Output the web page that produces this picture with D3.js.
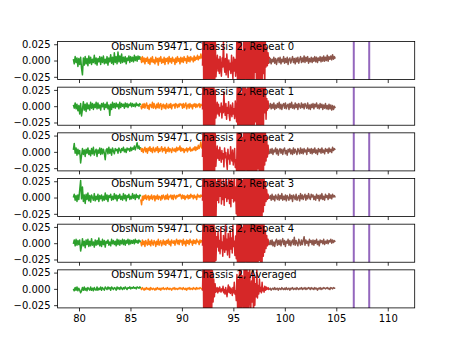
<!DOCTYPE html>
<html>
<head>
<meta charset="utf-8">
<script src="https://cdn.jsdelivr.net/npm/d3@7"></script>
<style>
    body { margin: 0; background: #fff; }
    svg { display: block; }
</style>
</head>
<body>
<div id="chart"></div>
<script>
// spectra are stored in units of 1e-3; one row per repeat, last row is the average
const panelTitles = [
    'ObsNum 59471, Chassis 2, Repeat 0',
    'ObsNum 59471, Chassis 2, Repeat 1',
    'ObsNum 59471, Chassis 2, Repeat 2',
    'ObsNum 59471, Chassis 2, Repeat 3',
    'ObsNum 59471, Chassis 2, Repeat 4',
    'ObsNum 59471, Chassis 2, Averaged'
];

const xTicks = [80, 85, 90, 95, 100, 105, 110];
const yTicks = [-25, 0, 25];

// frequency range covered by each band, in GHz
const bandEdges = [79.45, 86.0, 92.0, 98.5, 104.9];
const bandColors = ['#2ca02c', '#ff7f0e', '#d62728', '#8c564b'];

const green = [
    [2,-5,6,-3,4,-9,3,-6,5,-12,-22,4,-7,6,-5,3,-8,7,-4,5,-6,2,-3,8,-5,4,-7,3,-2,6,-6,5,-3,7,-5,2,-4,6,-7,4,-2,9,-4,5,-6,12,-3,6,-5,13,-2,7,-4,10,-3,5,-2,6,-5,4,0,7,-3,6,-1,5,-2,8,0,6,-1,7,2,6,1],
    [2,-3,5,-4,3,-7,1,-12,4,-15,-5,7,-6,3,-8,5,-4,2,-6,6,-3,4,-5,3,-2,6,-4,5,-3,2,-6,4,-1,5,-5,3,-2,6,-4,2,-14,3,-5,6,-2,4,-3,5,-1,3,-4,6,-2,4,0,3,-3,5,-1,4,-2,3,1,5,-1,4,0,3,-1,5,1,3,0,4,2],
    [3,13,-2,6,-5,4,-3,2,-17,-6,5,-4,3,-7,4,-2,6,-4,2,-6,5,-3,7,-5,1,4,-7,3,-2,6,-4,5,-3,4,-2,-12,3,5,-3,7,-2,4,-5,6,1,-3,5,2,4,-2,6,3,-1,5,2,7,0,4,-1,6,3,5,1,7,2,6,4,9,3,8,14,5,9,4,7],
    [0,5,-4,3,-6,4,-3,12,26,-2,16,-6,4,-9,5,-3,7,-5,3,-7,4,0,-4,6,-5,2,-3,5,-6,3,-2,4,-5,2,-4,7,-3,4,-6,3,0,5,-4,2,-3,6,-2,4,-5,3,-1,5,-3,2,-4,6,-2,4,-5,3,0,5,-3,2,-2,6,-1,4,-3,5,0,3,-2,4,2],
    [-1,5,-4,6,-3,4,-2,5,-12,-5,7,-4,3,-7,5,-2,6,-5,3,-4,7,-3,2,-6,5,-3,4,-2,8,-4,3,-5,6,-2,4,-6,3,0,5,-3,2,-4,6,-1,4,-2,3,-4,6,-2,5,-3,4,-1,6,-2,5,-3,4,0,6,-2,5,-1,4,0,5,-1,6,1,4,0,5,2,4],
    [0,-3,2,-2,3,-3,1,-2,-6,-3,2,-2,3,-2,1,-3,2,0,-2,3,-2,1,-3,2,-1,-2,3,-2,1,-1,3,-2,2,0,-2,3,1,-1,3,0,2,-2,3,1,-1,2,1,-2,3,0,2,-1,3,1,-1,2,0,3,1,-1,2,1,3,0,2,1,3,1,2,0,3,2,1,3,1]
];

const orange = [
    [5,-3,6,-2,4,-5,3,-1,5,-4,2,-6,4,-2,6,-3,1,-5,5,-2,3,-7,4,-1,6,-4,2,-3,5,-6,3,-1,4,-5,6,-2,3,-4,5,-1,2,-6,4,-3,6,-1,3,-5,5,-2,4,-3,6,0,3,-4,7,-1,5,-2,6,1,4,-2,7,0,5,2,8,1,6,3,10,4,7],
    [1,-4,3,-2,4,-3,2,5,-3,1,-5,3,2,-2,6,-3,4,-1,-4,3,-2,5,-3,2,4,-5,1,3,-3,2,-4,4,-1,-3,3,-2,4,-4,2,1,3,-3,4,2,-2,3,-1,4,2,3,-3,4,-2,2,5,-4,1,3,-3,4,-1,2,-4,3,0,4,-2,3,-1,2,4,-2,3,1,2],
    [6,1,5,-1,4,7,0,5,-2,6,2,8,1,5,-1,7,3,0,6,2,8,-1,5,1,4,8,0,5,2,7,-2,4,1,7,0,5,3,-1,6,3,1,5,0,7,2,6,3,9,1,6,2,5,-1,4,2,6,0,5,3,7,1,4,2,6,3,8,2,7,4,10,5,9,15,6,8],
    [-3,-11,2,-4,3,-2,4,-3,1,3,-4,2,-2,4,-3,1,3,-5,2,-2,4,-3,2,1,-4,3,-2,4,1,-3,3,-2,5,-3,2,1,4,-2,3,-3,4,2,-2,3,1,4,2,5,3,-2,4,-1,3,-3,2,0,4,-2,3,-1,5,1,3,-2,4,0,2,-3,5,1,3,0,4,2,3],
    [2,-4,5,-2,3,-5,4,0,-3,6,-2,3,-4,5,0,-3,4,2,-5,3,-2,6,-3,2,4,-4,0,5,-2,3,-3,4,0,6,-2,3,-4,5,1,0,4,-3,3,6,-1,4,-2,5,2,4,-3,6,-1,3,-4,5,0,4,-2,6,1,3,-3,5,0,4,-1,6,2,3,-2,5,1,4,2],
    [1,-1,2,0,-2,1,-1,2,0,-1,1,-2,2,0,-1,1,0,-2,1,-1,2,0,-1,1,-2,1,0,2,-1,0,1,-1,2,0,-1,1,0,-2,1,0,2,-1,1,0,-1,1,0,2,0,1,-1,2,0,-1,1,-2,1,0,2,-1,1,0,-1,2,0,1,-1,2,0,1,0,2,1,0,1]
];

const red = [
    [-8,50,-62,45,-58,60,-40,55,-62,48,-55,62,-35,58,-60,42,-50,55,-45,30,-25,
     -4,8,-16,2,-20,6,-12,-24,4,-10,30,-8,-18,3,-22,10,-6,-26,1,-14,-4,-20,8,-12,-28,5,-16,2,-24,-10,
     45,-58,52,-62,38,-48,60,-55,15,-40,58,-62,48,-28,62,-58,32,-50,55,-62,20,-44,58,-32,48,-62,38,-18,50,-60,42,-30,60,-56,28,-46,55,-62,35,-20,45,-50,30,-10,20,-8,12,-4,6],
    [-5,52,-60,46,-62,58,-50,55,-40,60,-54,48,-62,40,-58,55,-45,30,-50,25,-18,
     -6,6,-12,3,-15,-2,-9,5,-18,0,-10,22,-5,-14,4,-20,-2,-11,7,-15,-22,2,-8,-16,5,-12,-4,-19,8,-10,-24,
     38,-60,54,-48,62,-58,20,-42,58,-62,44,-30,60,-55,26,-50,56,-62,40,-36,60,-58,32,-48,52,-62,45,-24,58,-50,40,-62,30,-45,55,-60,36,-28,50,-48,40,-10,30,-20,12,-6,8,-3,2],
    [-8,52,-60,48,-56,60,-44,56,-62,42,-50,58,-62,40,-55,50,-35,45,-40,28,-22,
     -4,9,-10,3,-13,7,-6,-16,2,-11,-3,-23,6,-9,-1,-15,-27,4,-11,-5,-19,8,-7,-14,3,-20,-9,5,-24,-12,-30,
     40,-54,58,-62,48,-36,60,-50,22,-44,56,-60,38,-28,62,-54,34,-46,50,-60,24,-40,54,-32,44,-58,30,-48,60,-52,36,-26,58,-62,42,-38,55,-45,30,-50,40,-20,35,-14,22,-8,10,-3,1],
    [-5,55,-60,50,-62,58,-48,60,-55,46,-58,40,-62,52,-45,56,-38,48,-50,35,-30,
     20,-4,35,-8,28,2,40,-10,15,-3,32,-12,22,0,45,-6,18,-2,30,-9,26,-14,38,-1,24,-7,42,-5,16,-25,
     36,-58,52,-62,44,-40,60,-52,26,-46,58,-60,40,-30,62,-56,36,-48,48,-60,28,-38,56,-34,42,-58,32,-50,60,-45,38,-62,50,-30,58,-55,28,-40,46,-22,35,-12,24,-6,12,-3,5,-1,2],
    [-4,40,-62,55,-60,48,-56,60,-50,52,-62,36,-58,50,-55,44,-48,30,-40,20,-26,
     10,-6,18,-12,4,-16,25,-8,2,-20,12,-4,-14,30,-10,6,-18,15,-2,-22,20,-9,8,-15,28,-5,3,-19,11,-24,
     38,-56,50,-60,42,-46,58,-54,24,-40,56,-62,44,-28,60,-58,34,-44,52,-62,22,-38,54,-30,46,-56,32,-50,58,-42,36,-60,48,-26,55,-50,30,-44,40,-20,32,-14,20,-8,12,-4,6,-2,1],
    [-3,45,-60,52,-58,56,-44,50,-62,40,-55,48,-36,42,-30,28,-20,15,-12,8,-5,
     -3,2,-6,1,-4,3,-2,-5,0,-3,4,-6,-1,-8,2,-4,-12,-2,6,-5,3,-7,1,-4,-10,2,-6,10,-8,-3,
     -18,22,-30,14,-40,35,-55,48,-60,20,-8,-35,56,-62,40,-50,60,-45,25,-62,55,-15,-30,12,-20,40,-50,18,-25,8,-12,30,-14,5,-8,15,-4,2,-6,10,-3,1,-5,4,-2,3,-1,0,2,-1,0]
];

const brown = [
    [-4,3,-5,2,-2,5,-4,3,-6,1,4,-3,5,-5,2,-2,6,-4,3,-3,5,-6,2,4,-4,1,6,-3,3,-5,4,-2,5,-4,2,6,-3,4,-2,7,-3,5,-1,6,-4,3,-2,5,-3,4,-1,6,-2,5,-3,4,0,6,-2,5,-1,7,-1,5,0,8,-1,6,2,7,1,9,2,6,3],
    [-2,4,-4,3,-3,5,-5,2,-3,4,-2,6,-4,3,-5,2,4,-3,5,-4,1,3,-5,4,-2,6,-3,2,-4,5,-2,3,-5,4,0,-3,5,-2,3,-4,4,1,-3,5,-4,2,-5,3,-2,4,-4,3,-1,5,-3,2,-4,4,-2,3,-5,2,-3,4,-4,1,-5,3,-4,2,-6,1,-5,0,-3],
    [-3,4,-2,5,-4,3,0,6,-3,4,-5,2,5,-2,4,-4,3,6,-3,2,-5,4,0,5,-3,3,-4,6,-2,4,0,-4,5,2,-3,6,-2,4,-3,5,0,3,-4,6,1,4,-2,5,-3,4,-1,6,-2,3,-4,5,0,4,-2,6,-1,3,-3,5,1,4,-2,6,0,4,-1,7,2,5,3],
    [-2,3,-4,5,-3,2,-5,4,0,-3,5,-4,3,-2,6,-4,2,-3,4,-5,3,0,-4,5,-2,3,-6,4,1,-3,5,-4,0,3,-5,6,-2,4,-3,2,5,-4,3,-2,6,0,-3,5,1,4,-3,2,-4,5,-1,3,-5,4,-2,6,-3,2,-4,5,0,3,-3,6,-1,4,-2,5,1,3,0],
    [-3,4,-2,5,-4,2,-5,3,6,-3,4,-2,5,-4,3,7,-2,4,-5,3,0,6,-3,4,-4,2,5,-2,9,-3,4,0,-4,6,1,-3,5,-2,4,10,-3,5,0,3,-4,6,1,4,-2,5,-3,4,0,6,-2,3,-4,5,1,4,-1,6,-2,3,0,5,-1,4,2,6,0,5,1,4,2],
    [-1,1,-2,0,1,-1,2,-1,0,1,-2,1,0,-1,2,0,-1,1,-1,2,-1,0,1,-2,1,0,2,-1,0,1,-1,2,0,-1,1,0,2,-1,1,0,2,-1,1,0,2,1,-1,2,0,1,-1,2,0,1,-2,1,0,2,-1,1,0,2,1,0,1,2,0,1,-1,2,1,0,2,1,1]
];

// flagged channels, drawn as full-height spikes
const flaggedChannels = [
    [106.7, 108.2],
    [106.7],
    [106.7, 108.2],
    [106.7, 108.2],
    [106.7, 108.2],
    [106.7, 108.2]
];
const flagLevels = [80, -80];
const flagColor = '#9467bd';

const bands = [green, orange, red, brown];

let width = 461,
    height = 346,
    margin = {top: 41.5, right: 46.3, bottom: 38.1, left: 57.6},
    chartWidth = width - margin.left - margin.right;

let svg = d3.select('#chart').append('svg')
    .attr('width', width)
    .attr('height', height)
    .style('background', '#fff');

let scaleX = d3.scaleLinear()
    .domain([77.92, 112.62])
    .range([margin.left, margin.left + chartWidth]);

let scaleRow = d3.scaleBand()
    .domain(d3.range(panelTitles.length))
    .range([margin.top, height - margin.bottom])
    .paddingInner(0.2 / 1.2);

panelTitles.forEach((title, row) => {
    let top = scaleRow(row),
        panelHeight = scaleRow.bandwidth(),
        scaleY = d3.scaleLinear().domain([-29.2, 29.2]).range([top + panelHeight, top]);

    let g = svg.append('g').attr('class', 'panel');

    g.append('clipPath')
        .attr('id', `clip${row}`)
        .append('rect')
        .attr('x', margin.left)
        .attr('y', top)
        .attr('width', chartWidth)
        .attr('height', panelHeight);

    let plot = g.append('g').attr('clip-path', `url(#clip${row})`);

    // one line per band, channels spread evenly across the band's range
    bands.forEach((band, b) => {
        let values = band[row],
            scaleChan = d3.scaleLinear().domain([0, values.length - 1]).range([bandEdges[b], bandEdges[b + 1]]);

        plot.append('path')
            .datum(values.map((v, i) => [scaleChan(i), v]))
            .attr('fill', 'none')
            .attr('stroke', bandColors[b])
            .attr('stroke-width', 1.5)
            .attr('stroke-linejoin', 'round')
            .attr('d', d3.line().x((d) => scaleX(d[0])).y((d) => scaleY(d[1])));
    });

    plot.selectAll('line.flag')
        .data(flaggedChannels[row])
        .enter()
        .append('line')
        .attr('class', 'flag')
        .attr('x1', (d) => scaleX(d))
        .attr('x2', (d) => scaleX(d))
        .attr('y1', scaleY(flagLevels[0]))
        .attr('y2', scaleY(flagLevels[1]))
        .attr('stroke', flagColor)
        .attr('stroke-width', 2);

    // axes
    let yAxis = d3.axisLeft(scaleY)
        .tickValues(yTicks)
        .tickSize(3.5)
        .tickPadding(3.5)
        .tickSizeOuter(0)
        .tickFormat((d) => (d / 1000).toFixed(3).replace('-', '\u2212'));

    let xAxis = d3.axisBottom(scaleX)
        .tickValues(xTicks)
        .tickSize(3.5)
        .tickPadding(3.5)
        .tickSizeOuter(0)
        .tickFormat(row === panelTitles.length - 1 ? d3.format('d') : () => '');

    let ya = g.append('g')
        .attr('transform', `translate(${margin.left},0)`)
        .call(yAxis);

    let xa = g.append('g')
        .attr('transform', `translate(0,${top + panelHeight})`)
        .call(xAxis);

    [ya, xa].forEach((a) => {
        a.attr('font-family', "'DejaVu Sans', sans-serif").attr('font-size', 10);
        a.select('.domain').remove();
        a.selectAll('.tick line').attr('stroke', '#000').attr('stroke-width', 0.8);
        a.selectAll('.tick text').attr('fill', '#000');
    });

    g.append('rect')
        .attr('x', margin.left)
        .attr('y', top)
        .attr('width', chartWidth)
        .attr('height', panelHeight)
        .attr('fill', 'none')
        .attr('stroke', '#000')
        .attr('stroke-width', 0.8);

    g.append('text')
        .attr('x', margin.left + 0.15 * chartWidth)
        .attr('y', top + 8)
        .attr('font-family', "'DejaVu Sans', sans-serif")
        .attr('font-size', 10)
        .attr('fill', '#000')
        .text(title);
});
</script>
</body>
</html>
